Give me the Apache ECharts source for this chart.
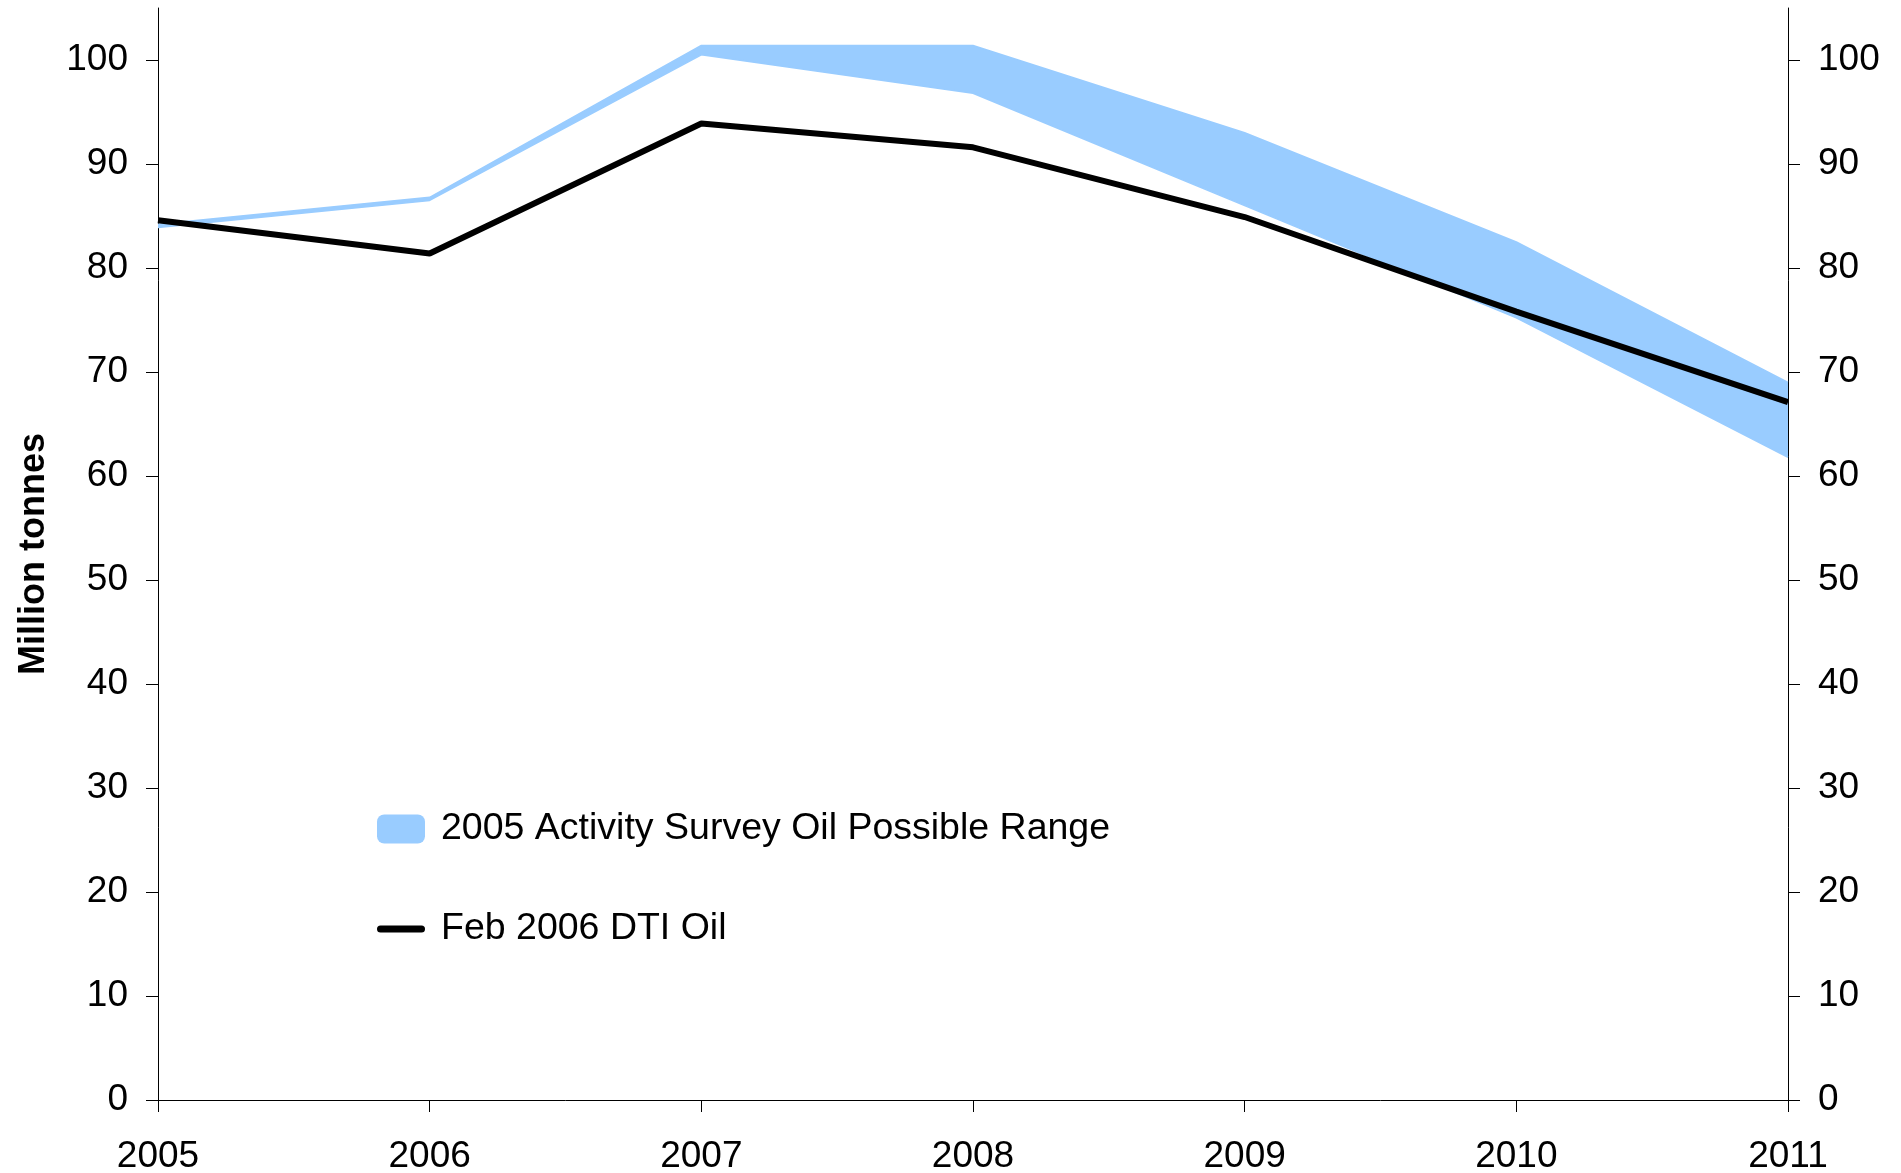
<!DOCTYPE html>
<html>
<head>
<meta charset="utf-8">
<script src="https://cdn.jsdelivr.net/npm/echarts@6/dist/echarts.min.js"></script>
<style>
  html, body { margin: 0; padding: 0; background: #fff; }
  #oilChart { width: 1901px; height: 1173px; }
</style>
</head>
<body>
<div id="oilChart"></div>
<script>
// years on the x axis
var years = ['2005', '2006', '2007', '2008', '2009', '2010', '2011'];
// 2005 Activity Survey - possible range (lower / upper edge)
var surveyLow  = [83.9, 86.5, 100.5, 96.8, 86.0, 75.2, 61.8];
var surveyHigh = [84.2, 86.8, 101.4, 101.4, 93.0, 82.5, 69.0];
// Feb 2006 DTI forecast
var dtiOil = [84.6, 81.4, 93.9, 91.6, 84.9, 75.8, 67.1];
// y tick labels
var yTicks = [0, 10, 20, 30, 40, 50, 60, 70, 80, 90, 100];

var bandName = '2005 Activity Survey Oil Possible Range';
var lineName = 'Feb 2006 DTI Oil';
var blue = '#99CCFF';
var font = 'Liberation Sans, Arial, sans-serif';

// band thickness = upper - lower, stacked on the lower edge
var bandSpan = [];
for (var i = 0; i < surveyLow.length; i++) {
  bandSpan.push(+(surveyHigh[i] - surveyLow[i]).toFixed(2));
}

function yAxisCfg(pos) {
  return {
    type: 'value',
    position: pos,
    min: 0,
    max: 105,
    interval: 10,
    splitLine: { show: false },
    axisLine: { show: true, lineStyle: { color: '#000', width: 1 } },
    axisTick: { show: true, length: 12, customValues: yTicks, lineStyle: { color: '#000' } },
    axisLabel: {
      customValues: yTicks,
      margin: 30,
      color: '#000',
      fontSize: 37,
      fontFamily: font,
      padding: [8, 0, 0, 0]
    }
  };
}

var myChart = echarts.init(document.getElementById('oilChart'));
var leftAxis = yAxisCfg('left');
leftAxis.name = 'Million tonnes';
leftAxis.nameLocation = 'middle';
leftAxis.nameGap = 106;
leftAxis.nameTextStyle = { color: '#000', fontSize: 36, fontWeight: 'bold', fontFamily: font };

var option = {
  backgroundColor: '#fff',
  animation: false,
  grid: { left: 158, right: 113, top: 8, bottom: 73, containLabel: false, outerBoundsMode: 'none' },
  legend: {
    orient: 'vertical',
    left: 372,
    top: 805,
    itemWidth: 48,
    itemHeight: 29,
    itemGap: 62,
    textStyle: { color: '#000', fontSize: 37.5, fontFamily: font, padding: [0, 0, 0, 11] },
    data: [
      { name: bandName, icon: 'roundRect' },
      { name: lineName, icon: 'path://M3.5,0 L44.5,0 A3.5,3.5 0 0 1 44.5,7 L3.5,7 A3.5,3.5 0 0 1 3.5,0 Z' }
    ]
  },
  xAxis: {
    type: 'category',
    data: years,
    boundaryGap: false,
    axisLine: { lineStyle: { color: '#000', width: 1 } },
    axisTick: { show: true, length: 12, alignWithLabel: true, lineStyle: { color: '#000' } },
    axisLabel: { color: '#000', fontSize: 37, fontFamily: font, margin: 38 },
    splitLine: { show: false }
  },
  yAxis: [leftAxis, yAxisCfg('right')],
  series: [
    {
      name: 'low',
      type: 'line',
      stack: 'band',
      data: surveyLow,
      symbol: 'none',
      silent: true,
      lineStyle: { color: blue, width: 1.5 },
      z: 1
    },
    {
      name: bandName,
      type: 'line',
      stack: 'band',
      data: bandSpan,
      symbol: 'none',
      silent: true,
      itemStyle: { color: blue },
      lineStyle: { color: blue, width: 1.5 },
      areaStyle: { color: blue, opacity: 1 },
      z: 1
    },
    {
      name: lineName,
      type: 'line',
      data: dtiOil,
      symbol: 'none',
      itemStyle: { color: '#000' },
      lineStyle: { color: '#000', width: 6 },
      z: 3
    }
  ]
};

myChart.setOption(option);
</script>
</body>
</html>
